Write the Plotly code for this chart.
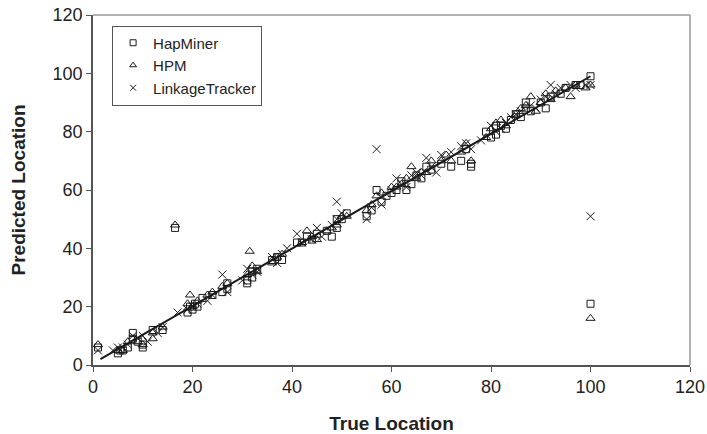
import plotly.graph_objects as go

hap_x = [1,5,5.5,6,7,8,8,9,10,10,12,14,16.5,19,19.5,20,20.5,21,22,24,26,27,27,31,31,32,32,33,36,37,38,41,42,43,44,45,47,48,49,49,50,51,55,56,57,58,59,60,61,62,63,64,65,66,67,68,70,72,74,75,76,76,79,80,81,81,82,83,84,85,86,87,87,88,90,91,92,94,95,97,98,100,100]
hap_y = [6,4,5,5,6,11,9,8,7,6,12,12,47,18,20,19,21,20,23,24,25,26,28,28,29,30,32,33,36,37,36,42,42,44,43,45,46,44,47,50,50,52,51,53,60,56,58,59,60,63,60,62,65,64,68,67,69,68,70,74,68,69,80,78,79,82,82,81,84,86,85,88,90,87,90,88,92,93,95,96,96,99,21]

hpm_x = [1,5,6,7,9,10,12,12,14,16.5,19,19.5,20,21,23,24,26,27,31,31.5,32,33,36,37,38,42,43,44,45,47,48,49,50,51,55,56,57,58,60,61,62,63,64,65,66,67,68,70,71,72,74,75,76,79,80,81,82,83,85,86,87,88,89,90,91,92,93,95,96,97,99,100,100]
hpm_y = [7,5,5,8,8,7,9,11,13,48,21,24,20,22,24,25,27,28,31,39,34,32,35,37,38,42,46,44,43,46,47,48,51,51,53,55,58,59,61,61,62,64,68,64,66,66,70,70,72,70,73,76,70,78,81,83,84,82,86,88,89,92,87,90,93,91,94,95,92,96,95,96,16]

lt_x = [1,4,5,6,7,8,9,10,11,13,14,17,19,20,21,23,24,26,27,30,31,32,33,36,37,38,39,41,42,44,45,46,48,49,49,50,55,56,57,58,60,61,62,63,64,65,66,67,68,69,70,72,74,75,76,78,80,81,82,83,84,85,86,88,89,90,91,92,93,94,96,97,99,100,100]
lt_y = [5,5,6,6,7,10,9,10,8,11,13,18,19,20,21,22,24,31,25,29,33,31,32,37,35,38,40,45,42,43,47,44,48,56,50,52,50,54,74,55,60,64,62,61,65,66,65,71,68,66,72,73,75,76,74,77,82,80,81,83,85,86,87,89,88,91,92,96,93,95,96,95,96,96,51]

trend_x = [1.5, 100]
trend_y = [2, 99]

series_names = ["HapMiner", "HPM", "LinkageTracker"]

font_fam = "Arial, Liberation Sans, sans-serif"
mc = "#1a1a1a"

fig = go.Figure()
fig.add_trace(go.Scatter(x=trend_x, y=trend_y, mode="lines",
                         line=dict(color="#1a1a1a", width=2), showlegend=False, hoverinfo="skip"))
fig.add_trace(go.Scatter(x=hap_x, y=hap_y, mode="markers", name=series_names[0], showlegend=False,
                         marker=dict(symbol="square-open", size=7, color=mc, line=dict(width=1))))
fig.add_trace(go.Scatter(x=hpm_x, y=hpm_y, mode="markers", name=series_names[1], showlegend=False,
                         marker=dict(symbol="triangle-up-open", size=8, color=mc, line=dict(width=1))))
fig.add_trace(go.Scatter(x=lt_x, y=lt_y, mode="markers", name=series_names[2], showlegend=False,
                         marker=dict(symbol="x-thin-open", size=8, color=mc, line=dict(width=1, color=mc))))

# legend entries with smaller markers, as in the reference
for nm, sym in zip(series_names, ["square-open", "triangle-up-open", "x-thin-open"]):
    fig.add_trace(go.Scatter(x=[None], y=[None], mode="markers", name=nm,
                             marker=dict(symbol=sym, size=6, color=mc, line=dict(width=1, color=mc))))

fig.update_layout(
    width=707, height=434,
    margin=dict(l=93, r=17, t=15, b=69),
    paper_bgcolor="white", plot_bgcolor="white",
    font=dict(family=font_fam, color="#222", size=18),
    legend=dict(x=0.032, y=0.97, xanchor="left", yanchor="top",
                bordercolor="#555", borderwidth=1, bgcolor="white",
                font=dict(size=15, color="#222"), itemsizing="trace",
                tracegroupgap=0, itemwidth=30),
    xaxis=dict(range=[0, 120], dtick=20, showgrid=False, zeroline=False,
               showline=True, linecolor="#555", linewidth=1.5, automargin=False,
               ticks="outside", ticklen=5, tickcolor="#555",
               title=dict(text="<b>True Location</b>", font=dict(size=19), standoff=20)),
    yaxis=dict(range=[0, 120], dtick=20, showgrid=False, zeroline=False,
               showline=True, linecolor="#555", linewidth=1.5, automargin=False,
               ticks="outside", ticklen=5, tickcolor="#555",
               title=dict(text="<b>Predicted Location</b>", font=dict(size=19), standoff=22)),
    shapes=[
        dict(type="line", xref="paper", yref="paper", x0=0, x1=1, y0=1, y1=1,
             line=dict(color="#999", width=1.5)),
        dict(type="line", xref="paper", yref="paper", x0=1, x1=1, y0=0, y1=1,
             line=dict(color="#999", width=1.5)),
    ],
)

fig.write_html("out.html", config={"displayModeBar": False},
               post_script="document.body.style.margin='0';")
